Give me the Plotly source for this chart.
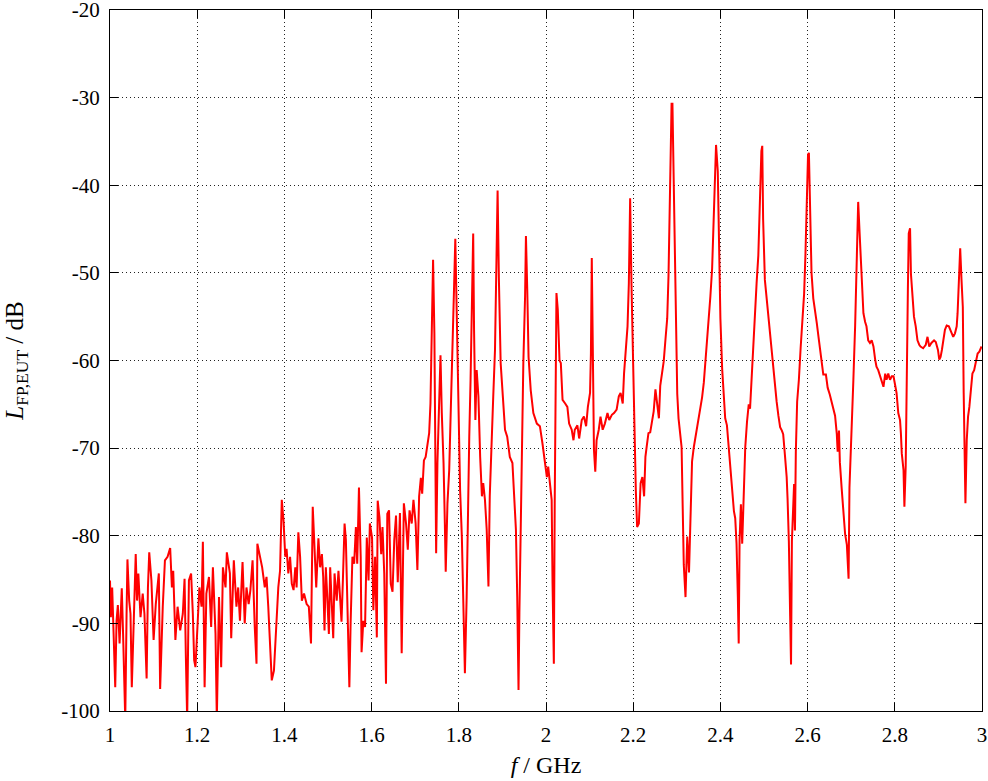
import plotly.graph_objects as go

# --- Data ---
freq_ghz = [
    1.000, 1.002, 1.005, 1.009, 1.012, 1.015, 1.018, 1.022, 1.027, 1.030,
    1.035, 1.038, 1.040, 1.044, 1.047, 1.050, 1.054, 1.059, 1.062, 1.065,
    1.070, 1.075, 1.079, 1.084, 1.087, 1.090, 1.095, 1.100, 1.105, 1.112,
    1.115, 1.118, 1.121, 1.126, 1.132, 1.138, 1.142, 1.145, 1.150, 1.155,
    1.161, 1.167, 1.171, 1.174, 1.177, 1.181, 1.186, 1.190, 1.193, 1.196,
    1.200, 1.205, 1.210, 1.213, 1.217, 1.221, 1.227, 1.232, 1.236, 1.242,
    1.245, 1.250, 1.255, 1.259, 1.265, 1.268, 1.275, 1.278, 1.284, 1.290,
    1.294, 1.298, 1.304, 1.309, 1.313, 1.318, 1.322, 1.327, 1.332, 1.336,
    1.338, 1.344, 1.349, 1.355, 1.359, 1.363, 1.367, 1.371, 1.376, 1.381,
    1.386, 1.390, 1.394, 1.398, 1.402, 1.405, 1.409, 1.413, 1.417, 1.421,
    1.425, 1.428, 1.432, 1.436,
    1.440, 1.445, 1.451, 1.456, 1.461, 1.465, 1.469, 1.473, 1.478, 1.482,
    1.486, 1.489, 1.492, 1.495, 1.498, 1.502, 1.505, 1.508, 1.512, 1.515,
    1.520, 1.524, 1.528, 1.531, 1.534, 1.538, 1.541, 1.545, 1.549, 1.552,
    1.556, 1.560, 1.564, 1.567, 1.571, 1.575, 1.577, 1.581, 1.585, 1.589,
    1.593, 1.596, 1.601, 1.604, 1.608, 1.612, 1.614, 1.618, 1.622, 1.625,
    1.629, 1.633, 1.636, 1.640, 1.644, 1.648, 1.652, 1.656, 1.660,
    1.665, 1.669, 1.674, 1.679, 1.683, 1.687, 1.692, 1.696, 1.701, 1.705,
    1.709, 1.713, 1.716, 1.720, 1.724, 1.728, 1.732, 1.735, 1.739, 1.741,
    1.744, 1.746, 1.748, 1.751, 1.755, 1.758, 1.761, 1.765, 1.768, 1.770,
    1.774, 1.778, 1.781, 1.785, 1.789, 1.792, 1.795, 1.799, 1.803, 1.807,
    1.810, 1.814, 1.818, 1.821, 1.824, 1.827, 1.830, 1.833, 1.835, 1.838,
    1.841, 1.845, 1.849, 1.853, 1.856, 1.860, 1.864, 1.868, 1.871, 1.875,
    1.879, 1.883, 1.887, 1.889, 1.892, 1.896, 1.901, 1.906, 1.911, 1.917,
    1.923, 1.927, 1.931, 1.934, 1.937, 1.939, 1.942, 1.945, 1.948, 1.952,
    1.954, 1.957, 1.960, 1.965, 1.971, 1.979,
    1.986, 1.992, 1.998, 2.002, 2.005, 2.009, 2.013, 2.015, 2.018, 2.020,
    2.022, 2.024, 2.027, 2.031, 2.034, 2.038, 2.044, 2.049, 2.053, 2.059,
    2.063, 2.066, 2.072, 2.076, 2.082, 2.087, 2.092, 2.096, 2.101, 2.103,
    2.105, 2.108, 2.110, 2.113, 2.116, 2.121, 2.125, 2.130, 2.135, 2.141,
    2.145, 2.151, 2.156, 2.162, 2.167, 2.171, 2.176, 2.179, 2.183, 2.187,
    2.190, 2.193, 2.196, 2.200, 2.203, 2.206, 2.209, 2.213, 2.217, 2.221,
    2.225, 2.228, 2.231, 2.235,
    2.239, 2.247, 2.251, 2.255, 2.259, 2.262, 2.266, 2.270, 2.274, 2.278,
    2.281, 2.285, 2.288, 2.290, 2.293, 2.297, 2.301, 2.304, 2.308, 2.311,
    2.314, 2.316, 2.320, 2.324, 2.328, 2.332, 2.335, 2.339, 2.343, 2.347,
    2.350, 2.354, 2.358, 2.362, 2.366, 2.369, 2.373, 2.377, 2.381, 2.385,
    2.387, 2.390, 2.394, 2.397, 2.400, 2.404, 2.408, 2.411, 2.415, 2.419,
    2.423, 2.427, 2.431, 2.434, 2.437, 2.440, 2.442, 2.444, 2.447, 2.450,
    2.454, 2.457, 2.461, 2.465,
    2.468, 2.472, 2.476, 2.479, 2.483, 2.487, 2.491, 2.494, 2.496, 2.498,
    2.502, 2.506, 2.510, 2.514, 2.518, 2.521, 2.525, 2.529, 2.533, 2.537,
    2.541, 2.544, 2.548, 2.552, 2.554, 2.557, 2.560, 2.562, 2.564, 2.567,
    2.569, 2.571, 2.573, 2.576, 2.580, 2.584, 2.588, 2.592, 2.595, 2.598,
    2.601, 2.603, 2.606, 2.609, 2.613, 2.617, 2.621, 2.625, 2.629, 2.632,
    2.636, 2.642, 2.646, 2.651, 2.655, 2.659, 2.663, 2.667, 2.669, 2.672,
    2.674, 2.678, 2.682, 2.686, 2.690, 2.694, 2.696, 2.699,
    2.701, 2.705, 2.709, 2.713, 2.716, 2.720, 2.724, 2.728, 2.732, 2.735,
    2.739, 2.743, 2.747, 2.751, 2.755, 2.758, 2.762, 2.766, 2.770, 2.774,
    2.778, 2.781, 2.785, 2.789, 2.793, 2.797, 2.800, 2.804, 2.808, 2.812,
    2.814, 2.816, 2.820, 2.822, 2.825, 2.827, 2.830, 2.832, 2.835, 2.837,
    2.840, 2.844, 2.848, 2.852, 2.856, 2.859, 2.865, 2.871, 2.875, 2.879,
    2.884, 2.890, 2.894, 2.899, 2.902, 2.905, 2.908, 2.911, 2.915, 2.919,
    2.924, 2.929, 2.934, 2.938, 2.942, 2.944, 2.947, 2.950, 2.953, 2.956,
    2.958, 2.960, 2.962, 2.965, 2.968, 2.971, 2.974, 2.978, 2.982, 2.986,
    2.990, 2.994, 2.999,
]

level_db = [
    -85.1, -89.3, -85.9, -94.0, -97.3, -89.7, -87.9, -92.3, -86.0, -91.2,
    -101.0, -88.9, -82.7, -87.4, -88.9, -97.3, -91.2, -82.1, -87.4, -84.3,
    -89.3, -86.6, -88.9, -96.3, -85.9, -81.9, -85.1, -91.9, -87.8, -84.3,
    -97.5, -91.2, -88.1, -82.8, -82.4, -81.4, -85.9, -84.0, -91.9, -88.1,
    -90.8, -88.9, -84.9, -93.8, -101.0, -85.1, -84.3, -88.9, -94.2, -95.0,
    -90.8, -85.9, -88.1, -80.7, -97.3, -86.6, -84.7, -90.4, -83.6, -91.2,
    -101.0, -87.0, -95.0, -83.6, -85.9, -81.9, -84.3, -91.7, -82.8, -88.1,
    -85.9, -89.7, -83.0, -90.0, -85.9, -87.8, -86.2, -82.8, -90.4, -94.6,
    -80.9, -82.4, -83.6, -85.9, -84.7, -88.1, -92.7, -96.5, -95.4, -91.2,
    -85.9, -84.0, -75.9, -78.3, -82.4, -81.5, -84.3, -82.4, -85.5, -86.2,
    -83.6, -85.9, -79.6, -82.4,
    -87.4, -86.6, -87.8, -88.1, -92.3, -76.7, -80.9, -85.9, -80.3, -83.6,
    -82.1, -84.7, -90.8, -83.6, -86.6, -91.2, -83.6, -87.4, -91.7, -84.3,
    -87.4, -84.0, -87.4, -89.8, -85.3, -78.6, -80.5, -88.9, -97.3, -89.7,
    -82.4, -83.2, -79.0, -83.2, -74.5, -82.4, -93.3, -89.7, -90.4, -80.2,
    -85.1, -78.6, -80.2, -88.5, -82.4, -91.6, -76.0, -77.9, -82.1, -79.0,
    -84.3, -96.9, -77.5, -77.1, -85.5, -86.4, -80.5, -77.7, -85.3,
    -77.4, -93.4, -76.3, -78.6, -81.6, -77.1, -78.6, -75.9, -78.6, -83.9,
    -75.5, -73.4, -75.2, -71.4, -71.0, -69.8, -68.3, -64.9, -52.1, -48.5,
    -56.9, -77.8, -82.0, -71.7, -64.1, -59.4, -66.0, -71.7, -78.6, -84.1,
    -76.3, -72.5, -66.8, -60.3, -51.9, -46.1, -53.5, -65.3, -74.8, -80.1,
    -87.3, -95.7, -87.0, -76.3, -68.7, -62.2, -52.7, -45.5, -56.5, -66.8,
    -61.1, -64.1, -71.0, -75.5, -74.0, -75.9, -79.3, -85.8, -75.5, -68.7,
    -64.1, -58.8, -48.9, -40.6, -50.8, -60.3, -64.1, -67.9, -68.7, -71.0,
    -71.7, -75.5, -79.3, -87.0, -97.6, -88.8, -79.3, -67.9, -60.3, -52.7,
    -45.8, -51.9, -59.6, -63.4, -66.0, -67.2,
    -67.5, -69.5, -71.7, -73.3, -72.1, -74.0, -75.9, -85.4, -94.6, -76.3,
    -60.7, -52.3, -54.2, -60.0, -60.3, -64.5, -64.9, -65.3, -67.2, -67.9,
    -69.1, -67.9, -67.4, -68.9, -66.8, -66.4, -67.5, -65.3, -63.7, -59.2,
    -48.3, -58.8, -70.2, -72.7, -69.1, -67.9, -66.4, -67.9, -67.2, -66.0,
    -66.8, -66.2, -66.0, -65.6, -64.1, -63.7, -64.9, -61.5, -58.8, -56.1,
    -51.2, -41.5, -51.2, -61.8, -68.7, -74.8, -79.0, -78.6, -74.0, -73.3,
    -75.5, -71.0, -69.8, -68.3,
    -68.2, -65.8, -63.3, -64.9, -66.6, -62.9, -61.7, -60.1, -57.6, -55.2,
    -50.3, -40.1, -30.7, -30.7, -41.3, -55.2, -63.8, -66.6, -68.2, -69.9,
    -78.0, -83.3, -87.0, -80.1, -84.2, -76.0, -71.5, -69.9, -68.7, -67.4,
    -67.0, -65.8, -64.2, -62.5, -60.1, -57.6, -55.2, -52.7, -49.5, -44.2,
    -39.3, -35.4, -38.4, -47.8, -55.2, -60.9, -64.2, -66.6, -67.4, -69.9,
    -72.3, -74.8, -77.2, -78.0, -80.9, -87.0, -92.3, -80.5, -76.4, -80.9,
    -73.1, -69.9, -67.0, -65.0,
    -65.5, -61.4, -58.2, -55.3, -51.2, -48.0, -40.6, -36.1, -35.5, -43.9,
    -50.8, -52.9, -55.3, -57.3, -59.0, -61.4, -63.1, -64.7, -66.3, -67.6,
    -68.0, -68.4, -70.8, -73.3, -75.7, -80.6, -89.2, -94.7, -80.6, -75.3,
    -74.1, -79.4, -70.4, -64.7, -62.2, -58.6, -55.3, -52.4, -48.0, -41.8,
    -36.5, -36.3, -42.7, -50.0, -52.9, -54.1, -55.7, -57.3, -59.0, -60.6,
    -61.6, -61.6, -63.1, -63.9, -64.7, -65.5, -66.3, -68.4, -70.4, -68.0,
    -71.6, -74.5, -76.9, -79.8, -81.0, -84.9, -74.5, -69.6,
    -68.3, -62.2, -56.1, -47.4, -41.9, -46.2, -50.8, -54.6, -55.6, -56.1,
    -57.7, -58.0, -57.7, -58.4, -59.9, -60.7, -61.1, -61.8, -62.2, -63.0,
    -61.5, -62.2, -61.5, -62.2, -61.8, -61.8, -62.6, -63.7, -66.0, -66.8,
    -68.3, -70.6, -72.5, -76.7, -72.1, -61.5, -51.9, -45.5, -44.9, -50.1,
    -51.9, -55.0, -56.1, -57.7, -58.2, -58.4, -58.6, -58.2, -57.3, -58.4,
    -58.0, -57.7, -57.9, -58.8, -59.9, -59.6, -58.8, -57.7, -56.5, -56.0,
    -56.1, -56.7, -57.3, -56.9, -56.1, -54.6, -50.4, -47.2, -50.8, -53.9,
    -63.7, -70.2, -76.3, -69.1, -66.4, -65.3, -63.7, -61.5, -61.1, -60.3,
    -59.2, -59.0, -58.4,
]

x_ticks = [1, 1.2, 1.4, 1.6, 1.8, 2, 2.2, 2.4, 2.6, 2.8, 3]
x_tick_text = ["1", "1.2", "1.4", "1.6", "1.8", "2", "2.2", "2.4", "2.6", "2.8", "3"]
y_ticks = [-100, -90, -80, -70, -60, -50, -40, -30, -20]
y_tick_text = ["-100", "-90", "-80", "-70", "-60", "-50", "-40", "-30", "-20"]

FONT = "Liberation Serif, Times New Roman, serif"

fig = go.Figure()
fig.add_trace(go.Scatter(
    x=freq_ghz, y=level_db, mode="lines",
    line=dict(color="#ff0000", width=2),
    showlegend=False,
))

axis_common = dict(
    showline=True, linecolor="black", linewidth=1, mirror="allticks",
    ticks="inside", ticklen=8, tickcolor="black", tickwidth=1,
    showgrid=True, gridcolor="#222", gridwidth=1, griddash="1px,3px",
    zeroline=False, automargin=False, ticklabeloverflow="allow",
    tickfont=dict(family=FONT, size=21, color="black"),
)

fig.update_layout(
    width=988, height=781,
    margin=dict(l=110, r=6, t=10, b=70),
    paper_bgcolor="white", plot_bgcolor="white",
    xaxis=dict(
        range=[1, 3], tickvals=x_ticks, ticktext=x_tick_text,
        ticklabelstandoff=5,
        title=dict(text="<i>f</i> / GHz", font=dict(family=FONT, size=24, color="black"), standoff=9),
        **axis_common,
    ),
    yaxis=dict(
        range=[-100, -20], tickvals=y_ticks, ticktext=y_tick_text,
        ticklabelstandoff=5,
        title=dict(text="<i>L</i><sub>FP,EUT</sub> / dB", font=dict(family=FONT, size=25, color="black"), standoff=30),
        **axis_common,
    ),
)

# page body has a default 8px margin; drop it so the figure sits at the corner
fig.write_html(
    "out.html",
    config={"displayModeBar": False},
    post_script="document.body.style.margin='0';",
)
